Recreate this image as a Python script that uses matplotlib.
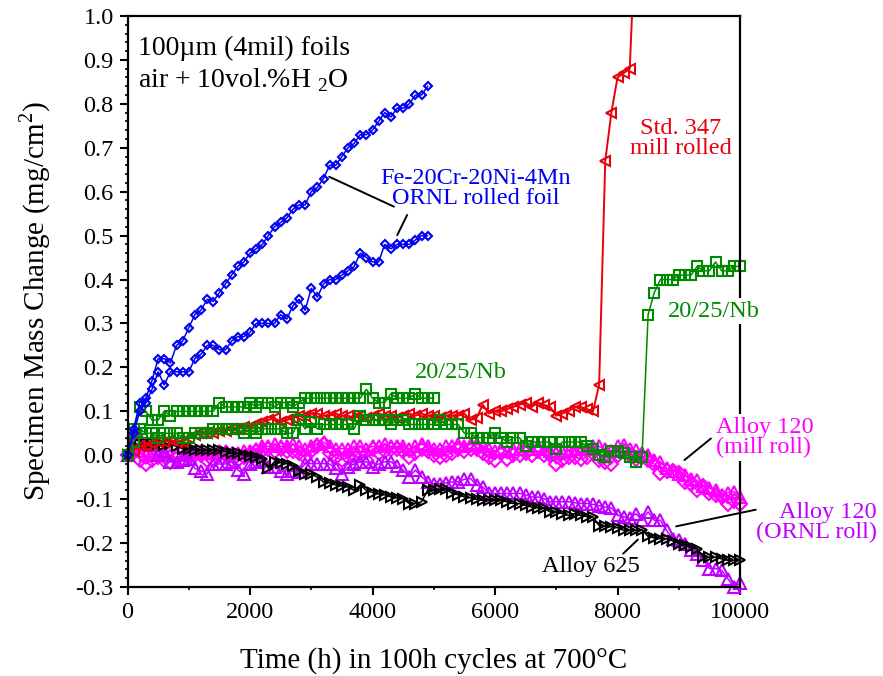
import numpy as np
import matplotlib
matplotlib.use("Agg")
import matplotlib.pyplot as plt
from matplotlib.ticker import MultipleLocator, FormatStrFormatter

plt.rcParams['font.family'] = ['Liberation Serif', 'DejaVu Serif']
plt.rcParams['mathtext.fontset'] = 'custom'
plt.rcParams['mathtext.rm'] = 'Liberation Serif'
plt.rcParams['axes.unicode_minus'] = False

# ---- data (mg/cm^2), one point per 100 h cycle ----
t_fe = np.arange(0, 5000, 100)
fe_a = [0.0, 0.06, 0.12, 0.13, 0.17, 0.22, 0.22, 0.21, 0.25, 0.26,
        0.29, 0.32, 0.33, 0.355, 0.35, 0.37, 0.39, 0.41, 0.43, 0.44,
        0.46, 0.47, 0.48, 0.50, 0.52, 0.53, 0.54, 0.56, 0.57, 0.57,
        0.60, 0.61, 0.63, 0.66, 0.66, 0.68, 0.70, 0.71, 0.73, 0.73,
        0.74, 0.76, 0.78, 0.77, 0.79, 0.79, 0.80, 0.82, 0.82, 0.84]
fe_b = [0.0, 0.05, 0.10, 0.12, 0.15, 0.19, 0.16, 0.19, 0.19, 0.19,
        0.19, 0.22, 0.23, 0.25, 0.25, 0.24, 0.24, 0.26, 0.27, 0.27,
        0.28, 0.30, 0.30, 0.30, 0.30, 0.32, 0.31, 0.34, 0.355, 0.33,
        0.38, 0.36, 0.39, 0.40, 0.40, 0.41, 0.42, 0.43, 0.46, 0.45,
        0.44, 0.44, 0.48, 0.47, 0.48, 0.48, 0.48, 0.49, 0.50, 0.50]

t_347 = np.arange(0, 8400, 100)
std347 = [0.0, 0.01, 0.02, 0.02, 0.025, 0.03, 0.03, 0.035, 0.03, 0.03,
          0.04, 0.045, 0.05, 0.05, 0.05, 0.055, 0.055, 0.06, 0.06, 0.065,
          0.065, 0.07, 0.075, 0.08, 0.085, 0.075, 0.08, 0.085, 0.09, 0.09,
          0.095, 0.095, 0.09, 0.09, 0.095, 0.09, 0.09, 0.085, 0.09, 0.085,
          0.09, 0.095, 0.09, 0.09, 0.085, 0.09, 0.095, 0.09, 0.095, 0.09,
          0.09, 0.085, 0.09, 0.09, 0.09, 0.095, 0.08, 0.085, 0.115, 0.095,
          0.10, 0.10, 0.105, 0.11, 0.115, 0.12, 0.11, 0.12, 0.115, 0.11,
          0.09, 0.095, 0.10, 0.11, 0.11, 0.105, 0.10, 0.16, 0.67, 0.78,
          0.86, 0.87, 0.88, 1.21]

t_nb_a = np.arange(0, 5100, 100)
nb_a = [0.0, 0.06, 0.11, 0.10, 0.08, 0.08, 0.10, 0.09, 0.10, 0.10,
        0.10, 0.10, 0.10, 0.10, 0.10, 0.12, 0.11, 0.11, 0.11, 0.11,
        0.12, 0.11, 0.12, 0.12, 0.11, 0.12, 0.12, 0.11, 0.12, 0.13,
        0.13, 0.13, 0.13, 0.13, 0.13, 0.13, 0.13, 0.13, 0.13, 0.15,
        0.13, 0.12, 0.12, 0.14, 0.13, 0.13, 0.13, 0.14, 0.13, 0.13,
        0.13]

t_full = np.arange(0, 10100, 100)
nb_b = [0.0, 0.03, 0.06, 0.05, 0.05, 0.04, 0.05, 0.05, 0.05, 0.04,
        0.04, 0.05, 0.05, 0.05, 0.06, 0.06, 0.06, 0.06, 0.06, 0.05,
        0.06, 0.05, 0.06, 0.06, 0.06, 0.06, 0.05, 0.05, 0.08, 0.06,
        0.075, 0.06, 0.07, 0.07, 0.07, 0.07, 0.07, 0.06, 0.09, 0.08,
        0.08, 0.08, 0.08, 0.07, 0.08, 0.08, 0.07, 0.07, 0.07, 0.07,
        0.07, 0.08, 0.07, 0.07, 0.07, 0.05, 0.05, 0.04, 0.04, 0.04,
        0.05, 0.04, 0.03, 0.04, 0.04, 0.02, 0.03, 0.03, 0.03, 0.03,
        0.015, 0.03, 0.03, 0.03, 0.03, 0.02, 0.015, 0.0, -0.004, 0.01,
        0.01, 0.004, -0.004, -0.015, -0.004, 0.32, 0.37, 0.40, 0.40, 0.40,
        0.41, 0.41, 0.41, 0.43, 0.42, 0.42, 0.44, 0.42, 0.42, 0.43,
        0.43]

a120_mill_a = [0.0, 0.01, -0.01, -0.02, -0.01, -0.005, -0.01, -0.015, -0.005, -0.01,
               -0.005, 0.0, 0.0, -0.01, -0.01, 0.0, 0.0, -0.01, -0.01, -0.005,
               0.0, 0.01, 0.01, 0.015, 0.01, 0.015, 0.01, 0.01, 0.005, -0.005,
               0.01, 0.02, 0.025, 0.005, -0.005, -0.01, -0.005, 0.0, 0.005, -0.01,
               0.015, 0.005, 0.01, 0.015, 0.015, 0.01, -0.005, 0.005, 0.015, 0.01,
               0.0, -0.005, 0.0, 0.005, 0.015, 0.01, 0.015, 0.015, 0.005, -0.005,
               -0.01, 0.005, -0.008, 0.0, 0.0, 0.005, 0.0, 0.01, 0.0, 0.0,
               -0.02, -0.01, -0.005, -0.005, -0.008, -0.005, 0.005, -0.01, -0.015, -0.02,
               0.0, 0.01, 0.0, -0.008, -0.005, -0.01, -0.02, -0.04, -0.035, -0.035,
               -0.04, -0.06, -0.065, -0.08, -0.07, -0.085, -0.09, -0.095, -0.11, -0.105,
               -0.11]
a120_mill_b = [0.0, 0.02, 0.01, 0.0, 0.005, 0.0, 0.005, 0.0, 0.005, 0.0,
               0.005, 0.01, 0.01, 0.005, 0.005, 0.01, 0.01, 0.005, 0.005, 0.01,
               0.01, 0.015, 0.02, 0.02, 0.025, 0.02, 0.02, 0.025, 0.02, 0.015,
               0.02, 0.025, 0.03, 0.02, 0.015, 0.015, 0.015, 0.02, 0.02, 0.015,
               0.02, 0.02, 0.025, 0.02, 0.02, 0.02, 0.015, 0.02, 0.025, 0.02,
               0.015, 0.015, 0.02, 0.02, 0.025, 0.02, 0.025, 0.025, 0.02, 0.015,
               0.01, 0.015, 0.01, 0.015, 0.015, 0.02, 0.015, 0.02, 0.015, 0.01,
               0.005, 0.01, 0.01, 0.015, 0.015, 0.015, 0.02, 0.02, 0.015, 0.01,
               0.02, 0.023, 0.015, 0.011, 0.005, 0.0, -0.01, -0.015, -0.03, -0.035,
               -0.042, -0.045, -0.055, -0.057, -0.07, -0.075, -0.08, -0.09, -0.085, -0.083,
               -0.095]
a120_ornl = [0.0, 0.05, 0.04, 0.027, 0.023, 0.0, 0.01, -0.015, -0.015, -0.01,
             -0.008, -0.03, -0.035, -0.042, -0.02, -0.02, -0.02, -0.015, -0.034, -0.042,
             -0.02, -0.015, -0.011, -0.027, -0.027, -0.035, -0.042, -0.035, -0.038, -0.019,
             -0.019, -0.019, -0.019, -0.02, -0.03, -0.042, -0.027, -0.02, -0.015, -0.015,
             -0.027, -0.02, -0.015, -0.015, -0.025, -0.034, -0.049, -0.034, -0.049, -0.061,
             -0.065, -0.065, -0.063, -0.061, -0.06, -0.055, -0.053, -0.068, -0.072, -0.087,
             -0.087, -0.087, -0.087, -0.087, -0.087, -0.09, -0.095, -0.095, -0.099, -0.106,
             -0.106, -0.106, -0.106, -0.108, -0.11, -0.11, -0.112, -0.115, -0.118, -0.12,
             -0.137, -0.14, -0.144, -0.133, -0.148, -0.129, -0.148, -0.148, -0.171, -0.19,
             -0.194, -0.201, -0.215, -0.224, -0.239, -0.258, -0.258, -0.262, -0.281, -0.30,
             -0.291]
a625 = [0.0, 0.02, 0.025, 0.027, 0.027, 0.025, 0.023, 0.025, 0.02, 0.015,
        0.015, 0.012, 0.011, 0.011, 0.011, 0.011, 0.008, 0.004, 0.004, 0.0,
        -0.002, -0.005, -0.008, -0.03, -0.015, -0.017, -0.019, -0.025, -0.035, -0.042,
        -0.042, -0.05, -0.061, -0.063, -0.068, -0.07, -0.072, -0.08, -0.068, -0.08,
        -0.085, -0.088, -0.09, -0.095, -0.097, -0.099, -0.11, -0.11, -0.106, -0.08,
        -0.08, -0.078, -0.076, -0.087, -0.09, -0.095, -0.097, -0.10, -0.103, -0.103,
        -0.103, -0.103, -0.106, -0.11, -0.11, -0.114, -0.118, -0.12, -0.121, -0.129,
        -0.129, -0.133, -0.137, -0.133, -0.137, -0.14, -0.14, -0.16, -0.162, -0.163,
        -0.165, -0.171, -0.171, -0.171, -0.17, -0.185, -0.188, -0.19, -0.19, -0.195,
        -0.201, -0.205, -0.21, -0.213, -0.232, -0.232, -0.232, -0.236, -0.239, -0.239,
        -0.239]

BLUE = '#0000ee'
RED = '#e8000b'
GREEN = '#008a00'
MAGENTA = '#ff00ff'
PURPLE = '#c000ff'

fig = plt.figure(figsize=(8.83, 6.76), dpi=100)
ax = fig.add_axes([127.5 / 883, 89 / 676, 612.5 / 883, 571 / 676])

common = dict(lw=1.1, mfc='none', mew=1.5, clip_on=False)
ax.plot(t_full, a120_mill_a, marker='D', ms=7.2, color=MAGENTA, **common)
ax.plot(t_full, a120_mill_b, marker='^', ms=8, color=MAGENTA, **common)
ax.plot(t_full, a120_ornl, marker='^', ms=8.3, color=PURPLE, **common)
ax.plot(t_full, a625, marker='>', ms=7, color='black', **common)
ax.plot(t_347, std347, marker='<', ms=6.5, color=RED, lw=1.4, mfc='none', mew=1.5)
ax.plot(t_nb_a, nb_a, marker='s', ms=7.8, color=GREEN, **common)
ax.plot(t_full, nb_b, marker='s', ms=7.8, color=GREEN, **common)
ax.plot(t_fe, fe_a, marker='D', ms=4.4, color=BLUE, **common)
ax.plot(t_fe, fe_b, marker='D', ms=4.4, color=BLUE, **common)

ax.set_xlim(0, 10000)
ax.set_ylim(-0.3, 1.0)
ax.xaxis.set_major_locator(MultipleLocator(2000))
ax.xaxis.set_minor_locator(MultipleLocator(1000))
ax.yaxis.set_major_locator(MultipleLocator(0.1))
ax.yaxis.set_minor_locator(MultipleLocator(0.02))
ax.yaxis.set_major_formatter(FormatStrFormatter('%.1f'))
ax.tick_params(which='both', direction='out', top=False, right=False, labelsize=17.5)
ax.tick_params(which='major', length=6, width=1.5)
ax.tick_params(which='minor', length=2.5, width=1.2)
ax.tick_params(axis='y', pad=4)
ax.tick_params(axis='x', pad=5)
for s in ax.spines.values():
    s.set_linewidth(1.6)

ax.set_xlabel('Time (h) in 100h cycles at 700\u00b0C', fontsize=21, labelpad=17)
ax.set_ylabel('Specimen Mass Change (mg/cm$^2$)', fontsize=21, labelpad=16)

# ---- annotations ----
ax.text(171, 0.911, '100\u00b5m (4mil) foils', fontsize=20, va='baseline')
ax.text(171, 0.838, 'air + 10vol.%H $_2$O', fontsize=20, va='baseline')
ax.text(5683, 0.608, 'Fe-20Cr-20Ni-4Mn\nORNL rolled foil', fontsize=17.5,
        color=BLUE, ha='center', va='center', linespacing=0.95)
ax.text(9033, 0.722, 'Std. 347\nmill rolled', fontsize=17.5, color=RED,
        ha='center', va='center', linespacing=0.95)
ax.text(9569, 0.328, '20/25/Nb', fontsize=17.5, color=GREEN, ha='center',
        va='center', bbox=dict(fc='white', ec='none', pad=2), zorder=3)
ax.text(5439, 0.189, '20/25/Nb', fontsize=17.5, color=GREEN, ha='center', va='center')
ax.text(9602, 0.041, 'Alloy 120\n(mill roll)', fontsize=17.5, color=MAGENTA,
        ha='left', va='center', linespacing=0.95,
        bbox=dict(fc='white', ec='none', pad=2), zorder=3)
ax.text(12236, -0.153, 'Alloy 120\n(ORNL roll)', fontsize=17.5, color=PURPLE,
        ha='right', va='center', multialignment='right', linespacing=0.95)
ax.text(7569, -0.253, 'Alloy 625', fontsize=17.5, ha='center', va='center')

leader = dict(arrowstyle='-', lw=1.4, color='black', shrinkA=0, shrinkB=0)
ax.annotate('', xy=(3293, 0.634), xytext=(4350, 0.566), arrowprops=leader)
ax.annotate('', xy=(4404, 0.501), xytext=(4566, 0.547), arrowprops=leader)
ax.annotate('', xy=(9093, -0.011), xytext=(9525, 0.038), arrowprops=leader)
ax.annotate('', xy=(8956, -0.162), xytext=(10257, -0.124), arrowprops=leader,
            annotation_clip=False)
ax.annotate('', xy=(8333, -0.192), xytext=(8093, -0.224), arrowprops=leader)

fig.savefig('out.png', dpi=100)
